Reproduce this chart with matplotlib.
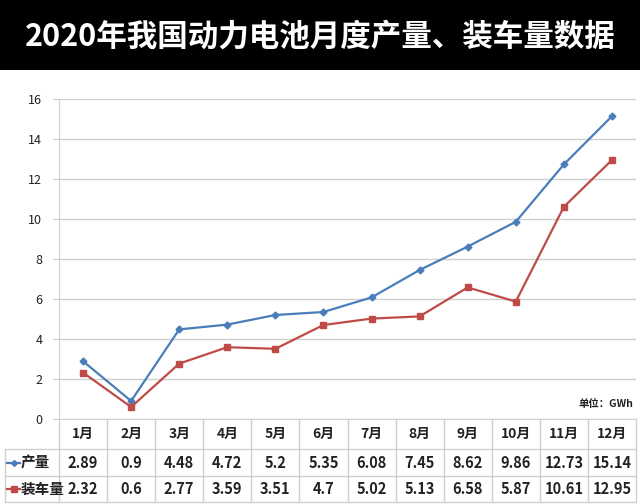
import matplotlib.pyplot as plt
from matplotlib.patches import Rectangle
from matplotlib.lines import Line2D
import numpy as np

plt.rcParams['font.family'] = ['Noto Sans CJK SC', 'DejaVu Sans']

months = ['1月', '2月', '3月', '4月', '5月', '6月', '7月', '8月', '9月', '10月', '11月', '12月']
production = [2.89, 0.9, 4.48, 4.72, 5.2, 5.35, 6.08, 7.45, 8.62, 9.86, 12.73, 15.14]
installed = [2.32, 0.6, 2.77, 3.59, 3.51, 4.7, 5.02, 5.13, 6.58, 5.87, 10.61, 12.95]
series_names = ['产量', '装车量']
title = '2020年我国动力电池月度产量、装车量数据'

blue = '#4A7EBB'
red = '#BE4B48'
grid_c = '#D0D0D0'

W, H = 640, 504
fig = plt.figure(figsize=(W / 100, H / 100), dpi=100)

# black title bar
fig.patches.append(Rectangle((0, 1 - 70 / H), 1, 70 / H, transform=fig.transFigure,
                             facecolor='black', edgecolor='none', zorder=0))
fig.text(0.5, 1 - 37 / H, title, color='white', fontsize=22, fontweight='bold',
         ha='center', va='center')

ax_l, ax_r, ax_t, ax_b = 59, 636, 99, 419
ax = fig.add_axes([ax_l / W, 1 - ax_b / H, (ax_r - ax_l) / W, (ax_b - ax_t) / H])
x = np.arange(len(months))
ax.plot(x, production, color=blue, lw=1.6, marker='D', ms=3.5, zorder=3)
ax.plot(x, installed, color=red, lw=1.6, marker='s', ms=5, zorder=3)
ax.set_xlim(-0.5, len(months) - 0.5)
ax.set_ylim(0, 16)
ax.set_yticks(range(0, 17, 2))
ax.grid(axis='y', color=grid_c, lw=1)
ax.set_axisbelow(True)
for s in ['top', 'right']:
    ax.spines[s].set_visible(False)
ax.spines['left'].set_color(grid_c)
ax.spines['bottom'].set_color(grid_c)
ax.set_xticks([])
ax.tick_params(axis='y', length=4, color=grid_c, labelsize=9, labelcolor='#222222', pad=8)

ax.text(0.995, -14 / 320 + 0.09, '单位：GWh', transform=ax.transAxes, ha='right', va='center',
        fontsize=7.5, fontweight='bold', color='#222222')

# data table below the axis
ppx = 1 / (ax_r - ax_l)
ppy = 1 / (ax_b - ax_t)
rows_y = [419, 449, 476, 502]
tr = ax.transAxes

def ya(py):
    return (ax_b - py) * ppy

def xa(px):
    return (px - ax_l) * ppx

lines_kw = dict(color=grid_c, lw=1, transform=tr, clip_on=False)
# horizontal lines
ax.add_line(Line2D([0, 1], [ya(449)] * 2, **lines_kw))
ax.add_line(Line2D([xa(5), 1], [ya(476)] * 2, **lines_kw))
ax.add_line(Line2D([xa(5), 1], [ya(502)] * 2, **lines_kw))
ax.add_line(Line2D([xa(5), 0], [ya(449)] * 2, **lines_kw))
# vertical lines
for i in range(len(months) + 1):
    xx = i / len(months)
    ax.add_line(Line2D([xx, xx], [ya(419), ya(502)], **lines_kw))
ax.add_line(Line2D([xa(5), xa(5)], [ya(449), ya(502)], **lines_kw))

def cy(r):
    return ya((rows_y[r] + rows_y[r + 1]) / 2)

for i, m in enumerate(months):
    xc = (i + 0.5) / len(months)
    ax.text(xc, cy(0), m, transform=tr, ha='center', va='center', fontsize=10,
            fontweight='bold', color='#222222')
    ax.text(xc, cy(1), f'{production[i]:g}', transform=tr, ha='center', va='center',
            fontsize=10.5, fontweight='bold', color='#222222')
    ax.text(xc, cy(2), f'{installed[i]:g}', transform=tr, ha='center', va='center',
            fontsize=10.5, fontweight='bold', color='#222222')

# row labels with legend keys
for r, (name, col, mk, ms) in enumerate([(series_names[0], blue, 'D', 3), (series_names[1], red, 's', 4)]):
    yy = cy(r + 1)
    ax.add_line(Line2D([xa(7), xa(20)], [yy, yy], color=col, lw=1.6, transform=tr, clip_on=False))
    ax.add_line(Line2D([xa(13.5)], [yy], color=col, marker=mk, ms=ms, transform=tr, clip_on=False))
    ax.text(xa(21), yy, name, transform=tr, ha='left', va='center', fontsize=10.5,
            fontweight='bold', color='#222222')

fig.savefig('out.png', dpi=100)
